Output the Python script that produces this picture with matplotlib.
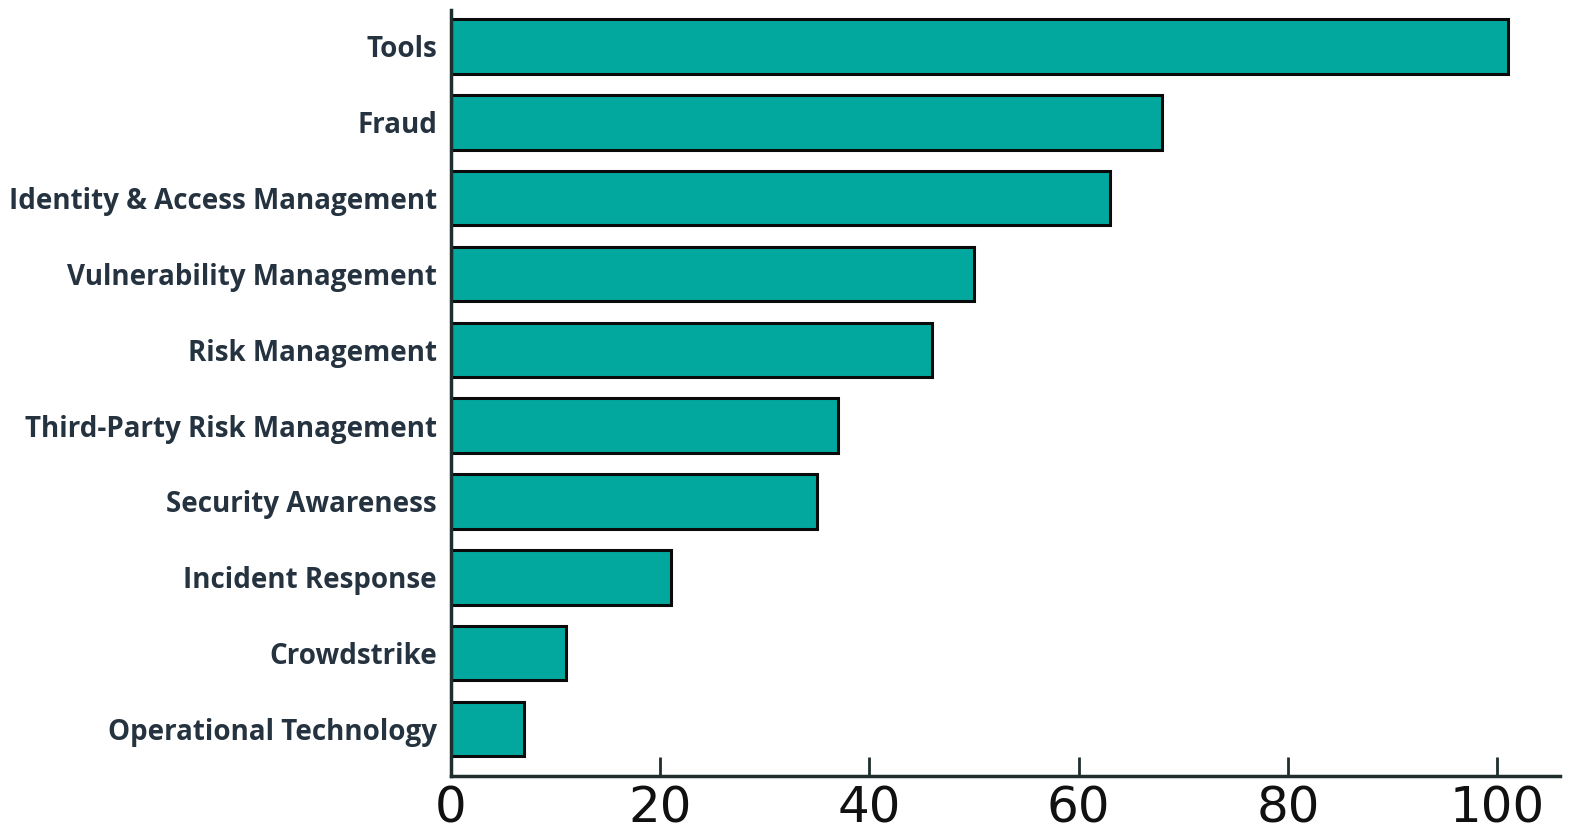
import matplotlib
matplotlib.use("Agg")
import matplotlib.pyplot as plt

categories = ["Tools", "Fraud", "Identity & Access Management", "Vulnerability Management",
              "Risk Management", "Third-Party Risk Management", "Security Awareness",
              "Incident Response", "Crowdstrike", "Operational Technology"]
values = [101, 68, 63, 50, 46, 37, 35, 21, 11, 7]
xticks = [0, 20, 40, 60, 80, 100]

fig = plt.figure(figsize=(15.71, 8.33), dpi=100)
ax = fig.add_axes([0.287, 0.0684, 0.706, 0.92])
pos = list(range(len(categories)))
ax.barh(pos, values, height=0.72, color="#02A89E", edgecolor="#0a0a0a", linewidth=2.2)
ax.set_ylim(9.62, -0.485)
ax.set_xlim(0, 106.0)
ax.set_yticks(pos)
ax.set_yticklabels(categories)
for lab in ax.get_yticklabels():
    lab.set_fontfamily("Open Sans")
    lab.set_fontweight("bold")
    lab.set_fontsize(20)
    lab.set_color("#25323f")
ax.set_xticks(xticks)
ax.set_xticklabels([str(t) for t in xticks], fontfamily="DejaVu Sans", fontsize=36, color="#111111")
ax.tick_params(axis="y", length=0, pad=10)
ax.tick_params(axis="x", direction="in", length=14, width=2, color="#1f2d2d", pad=6)
for s in ["top", "right"]:
    ax.spines[s].set_visible(False)
for s in ["left", "bottom"]:
    ax.spines[s].set_linewidth(2.5)
    ax.spines[s].set_color("#1f2d2d")
fig.savefig("out.png", dpi=100, facecolor="white")
